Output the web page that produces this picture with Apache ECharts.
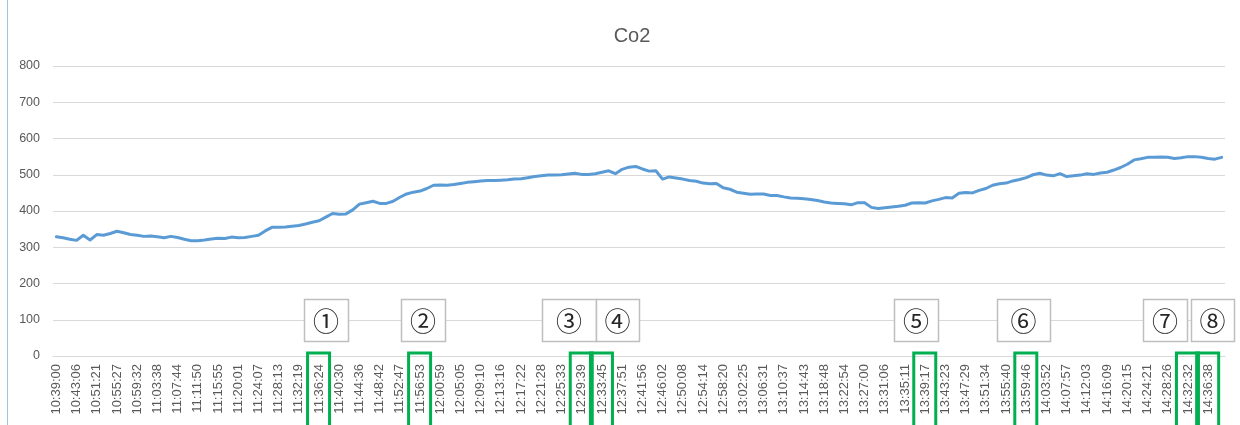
<!DOCTYPE html>
<html>
<head>
<meta charset="utf-8">
<script src="https://cdn.jsdelivr.net/npm/echarts@6/dist/echarts.min.js"></script>
<style>
html,body{margin:0;padding:0;background:#fff;}
#chart{width:1240px;height:425px;}
</style>
</head>
<body>
<div id="chart"></div>
<script>
// Visible tick labels (one every 3 plotted points)
var timeLabels = ['10:39:00','10:43:06','10:51:21','10:55:27','10:59:32','11:03:38','11:07:44','11:11:50','11:15:55','11:20:01','11:24:07','11:28:13','11:32:19','11:36:24','11:40:30','11:44:36','11:48:42','11:52:47','11:56:53','12:00:59','12:05:05','12:09:10','12:13:16','12:17:22','12:21:28','12:25:33','12:29:39','12:33:45','12:37:51','12:41:56','12:46:02','12:50:08','12:54:14','12:58:20','13:02:25','13:06:31','13:10:37','13:14:43','13:18:48','13:22:54','13:27:00','13:31:06','13:35:11','13:39:17','13:43:23','13:47:29','13:51:34','13:55:40','13:59:46','14:03:52','14:07:57','14:12:03','14:16:09','14:20:15','14:24:21','14:28:26','14:32:32','14:36:38'];

// CO2 readings (ppm)
var co2Values = [
329,326,322,319,333,320,335,333,338,344,340,335,333,330,331,329,326,330,327,322,
318,318,320,323,325,324,328,326,327,330,333,345,355,355,356,358,360,364,369,373,
383,393,391,392,403,419,423,427,421,421,427,438,447,452,455,462,471,472,471,473,
476,479,481,483,484,484,485,486,488,489,492,495,497,499,499,500,502,504,501,501,
503,507,511,503,515,521,523,516,510,511,488,494,491,488,484,482,477,475,476,464,
460,452,449,446,447,447,443,443,439,436,435,434,432,429,425,422,421,420,417,423,
423,410,407,409,411,413,416,422,423,422,428,432,437,436,449,451,450,457,462,471,
475,477,483,487,492,500,504,499,497,503,495,497,499,503,501,505,507,513,520,529,
541,544,548,548,549,548,545,547,550,550,548,545,543,548
];

var yTicks = [0,100,200,300,400,500,600,700,800];

// Annotated points (circled numbers) and the time labels they mark
var markNames = ['①','②','③','④','⑤','⑥','⑦','⑧'];
var markTimes = ['11:36:24','11:56:53','12:29:39','12:33:45','13:39:17','13:59:46','14:32:32','14:36:38'];

var PER_LABEL = 3;
var categories = co2Values.map(function(_, i){ return String(i); });

var chart = echarts.init(document.getElementById('chart'), null, {renderer:'canvas'});
var textColor = '#595959';
var option = {
  animation: false,
  backgroundColor: '#ffffff',
  title: {
    text: 'Co2', left: 627, top: 21, textAlign: 'center',
    textStyle: {fontSize: 20, fontWeight: 'normal', color: textColor, fontFamily: 'Liberation Sans'}
  },
  grid: {left: 53, right: 15, top: 66, bottom: 69, containLabel: false},
  xAxis: {
    type: 'category', data: categories, boundaryGap: true,
    axisLine: {show: true, lineStyle: {color: '#D9D9D9', width: 1}},
    axisTick: {show: false},
    axisLabel: {
      interval: PER_LABEL - 1, rotate: 90, margin: 8,
      color: textColor, fontSize: 13, fontFamily: 'Liberation Sans',
      formatter: function(v, idx){ return idx % PER_LABEL === 0 ? timeLabels[idx / PER_LABEL] : ''; }
    },
    splitLine: {show: false}
  },
  yAxis: {
    type: 'value', min: yTicks[0], max: yTicks[yTicks.length-1], interval: 100,
    axisLine: {show: false}, axisTick: {show: false},
    axisLabel: {color: textColor, fontSize: 12.5, margin: 13, fontFamily: 'Liberation Sans'},
    splitLine: {show: true, lineStyle: {color: '#D9D9D9', width: 1}}
  },
  series: [{
    name: 'Co2', type: 'line', data: co2Values, showSymbol: false, symbol: 'none',
    lineStyle: {color: '#5B9BD5', width: 3, cap: 'round', join: 'round'},
    itemStyle: {color: '#5B9BD5'}, z: 3
  }]
};
chart.setOption(option);

// Annotation callouts: box layout (left, width) for each circled number
var boxLayout = [[304,44],[401,44],[542,54],[596,43],[894,44],[997,53],[1143,44],[1191,43]];
var graphics = [];
// outer chart border
graphics.push({type:'rect', shape:{x:7.5, y:-2, width:1240, height:430}, style:{fill:'none', stroke:'#9DC3E6', lineWidth:1}, silent:true, z:1});
markNames.forEach(function(name, k){
  var b = boxLayout[k];
  graphics.push({
    type:'rect', shape:{x:b[0]+0.5, y:299.5, width:b[1], height:42},
    style:{fill:'#ffffff', stroke:'#BFBFBF', lineWidth:1.5}, z:10
  });
  graphics.push({
    type:'text', x: b[0] + b[1]/2, y: 321,
    style:{text:name, fill:'#262626', fontSize:26, fontFamily:'Noto Sans CJK JP', align:'center', verticalAlign:'middle'}, z:11
  });
  var idx = timeLabels.indexOf(markTimes[k]) * PER_LABEL;
  var px = chart.convertToPixel({xAxisIndex:0}, idx);
  graphics.push({
    type:'rect', shape:{x:px - 11.5, y:353, width:22, height:80},
    style:{fill:'none', stroke:'#00B050', lineWidth:3}, z:12
  });
});
chart.setOption({graphic: graphics});
</script>
</body>
</html>
